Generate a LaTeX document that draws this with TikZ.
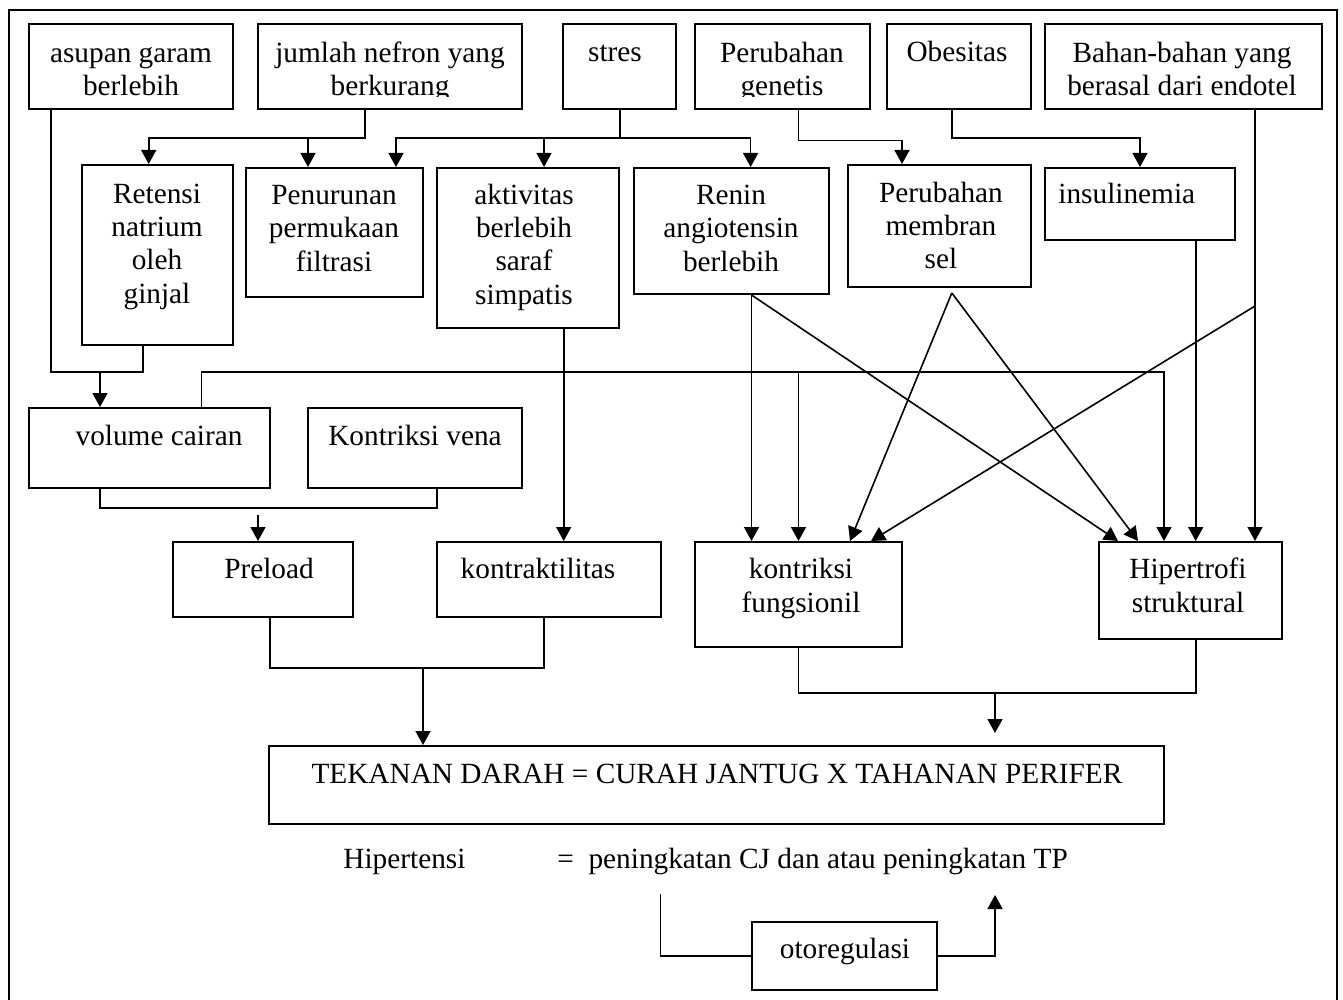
\documentclass[tikz,border=0pt]{standalone}
\usepackage{fontspec}
\setmainfont{Liberation Serif}
\usetikzlibrary{arrows.meta,fit,calc}
\begin{document}
\begin{tikzpicture}[x=0.5pt,y=-0.5pt,
  box/.style={draw, line width=1pt, inner sep=0pt},
  txt/.style={font=\fontsize{14.65pt}{16.65pt}\selectfont, align=center, inner sep=0pt, anchor=base},
  ltxt/.style={txt, anchor=base west, align=left},
  ln/.style={line width=0.8pt},
  arr/.style={ln, -{Triangle[width=7.5pt,length=7pt]}}]
\useasboundingbox (0,0) rectangle (1343,1000);

% page frame (open at the bottom)
\draw[line width=1.1pt] (9,1000) |- (1337,10) -- (1337,1000);

% ---- top row: causes (text nodes are placed by the baseline of their last line)
\node[box, fit={(29,24) (233,109)}] (asu) {};
\node[box, fit={(258,24) (522,109)}] (jum) {};
\node[box, fit={(563,24) (676,109)}] (str) {};
\node[box, fit={(695,24) (870,109)}] (gen) {};
\node[box, fit={(887,24) (1031,109)}] (obe) {};
\node[box, fit={(1045,24) (1322,109)}] (bah) {};

\node[txt] (asu-t) at (131,95.5) {asupan garam\\berlebih};
\begin{scope}
  \clip (258,24) rectangle (522,97);
  \node[txt] (jum-t) at (390,96) {jumlah nefron yang\\berkurang};
\end{scope}
\node[txt] (str-t) at (615,62) {stres};
\begin{scope}
  \clip (695,24) rectangle (870,97);
  \node[txt] (gen-t) at (782,96) {Perubahan\\genetis};
\end{scope}
\node[txt] (obe-t) at (957,62) {Obesitas};
\node[txt] (bah-t) at (1182,95.5) {Bahan-bahan yang\\berasal dari endotel};

% ---- second row
\node[box, fit={(82,165) (233,345)}] (ret) {};
\node[box, fit={(246,168) (423,297)}] (pen) {};
\node[box, fit={(437,168) (619,328)}] (akt) {};
\node[box, fit={(634,168) (829,294)}] (ren) {};
\node[box, fit={(848,165) (1031,287)}] (mem) {};
\node[box, fit={(1045,168) (1235,240)}] (ins) {};

\node[txt] (ret-t) at (157,303) {Retensi\\natrium\\oleh\\ginjal};
\node[txt] (pen-t) at (334,271) {Penurunan\\permukaan\\filtrasi};
\node[txt] (akt-t) at (524,304) {aktivitas\\berlebih\\saraf\\simpatis};
\node[txt] (ren-t) at (731,271) {Renin\\angiotensin\\berlebih};
\node[txt] (mem-t) at (941,269) {Perubahan\\membran\\sel};
\node[ltxt] (ins-t) at (1058,204) {insulinemia};

% ---- third row
\node[box, fit={(29,408) (270,488)}] (vol) {};
\node[box, fit={(308,408) (522,488)}] (ken) {};
\node[txt] (vol-t) at (159,445) {volume cairan};
\node[txt] (ken-t) at (415,445) {Kontriksi vena};

% ---- fourth row
\node[box, fit={(173,542) (353,617)}] (pre) {};
\node[box, fit={(437,542) (661,617)}] (kon) {};
\node[box, fit={(695,542) (902,647)}] (kf) {};
\node[box, fit={(1099,542) (1282,639)}] (hip) {};
\node[txt] (pre-t) at (269,578) {Preload};
\node[txt] (kon-t) at (538,578) {kontraktilitas};
\node[txt] (kf-t) at (801,612) {kontriksi\\fungsionil};
\node[txt] (hip-t) at (1188,612) {Hipertrofi\\struktural};

% ---- blood pressure
\node[box, fit={(269,746) (1164,824)}] (tek) {};
\node[txt] (tek-t) at (717,783) {TEKANAN DARAH = CURAH JANTUG X TAHANAN PERIFER};

\node[ltxt] (hyp-a) at (343,868) {Hipertensi};
\node[ltxt] (hyp-b) at (557,868) {=~~peningkatan CJ dan atau peningkatan TP};

\node[box, fit={(752,922) (937,990)}] (oto) {};
\node[txt] (oto-t) at (845,958) {otoregulasi};

% ---- connectors: top row to second row
\draw[arr] (jum.south -| 364.7,0) |- (148.7,138) -- (ret.north -| 148.7,0);
\draw[arr] (308,138) -- (pen.north -| 308,0);

\coordinate (sj) at (620,138);
\draw[ln] (str.south -| sj) -- (sj);
\draw[arr] (sj) -| (pen.north -| 396,0);
\draw[arr] (sj) -| (ren.north -| 750.6,0);
\draw[arr] (544,138) -- (akt.north -| 544,0);

\draw[arr] (gen.south -| 798.5,0) |- (902,140.7) -- (mem.north -| 902,0);
\draw[arr] (obe.south -| 951.8,0) |- (1140,138) -- (ins.north -| 1140,0);

% ---- fluid volume
\draw[ln] (asu.south -| 51,0) |- (143,372) -- (ret.south -| 143,0);
\draw[arr] (100,372) -- (vol.north -| 100,0);

\draw[arr] (vol.north -| 201.6,0) |- (1164,372) -- (hip.north -| 1164,0);
\draw[arr] (798.5,372) -- (kf.north -| 798.5,0);

% ---- sympathetic activity
\draw[arr] (akt.south -| 563.7,0) -- (kon.north -| 563.7,0);

% ---- renin
\draw[arr] (ren.south -| 751.5,0) -- (kf.north -| 751.5,0);
\draw[arr] (ren.south -| 751.5,0) -- (hip.north -| 1118,0);

% ---- membrane changes
\coordinate (mp) at (951.8,293);
\draw[arr] (mp) -- (kf.north -| 850,0);
\draw[arr] (mp) -- (hip.north -| 1138,0);

% ---- insulinemia and endothelium
\draw[arr] (ins.south -| 1195.7,0) -- (hip.north -| 1195.7,0);
\draw[arr] (bah.south -| 1255,0) -- (hip.north -| 1255,0);
\draw[arr] (1255,306) -- (kf.north -| 871,0);

% ---- preload
\draw[ln] (vol.south -| 99.7,0) |- (437,508) -- (ken.south -| 437,0);
\draw[arr] (258,515) -- (pre.north -| 258,0);

% ---- to blood pressure
\draw[ln] (pre.south -| 270,0) |- (544,668) -- (kon.south -| 544,0);
\draw[arr] (423,668) -- (tek.north -| 423,0);
\draw[ln] (kf.south -| 798.5,0) |- (1195.7,693) -- (hip.south -| 1195.7,0);
\draw[arr] (995,693) -- (995,733);

% ---- autoregulation
\draw[ln] (660.5,894) |- (oto.west);
\draw[arr] (oto.east) -| (995,895);
\end{tikzpicture}
\end{document}
